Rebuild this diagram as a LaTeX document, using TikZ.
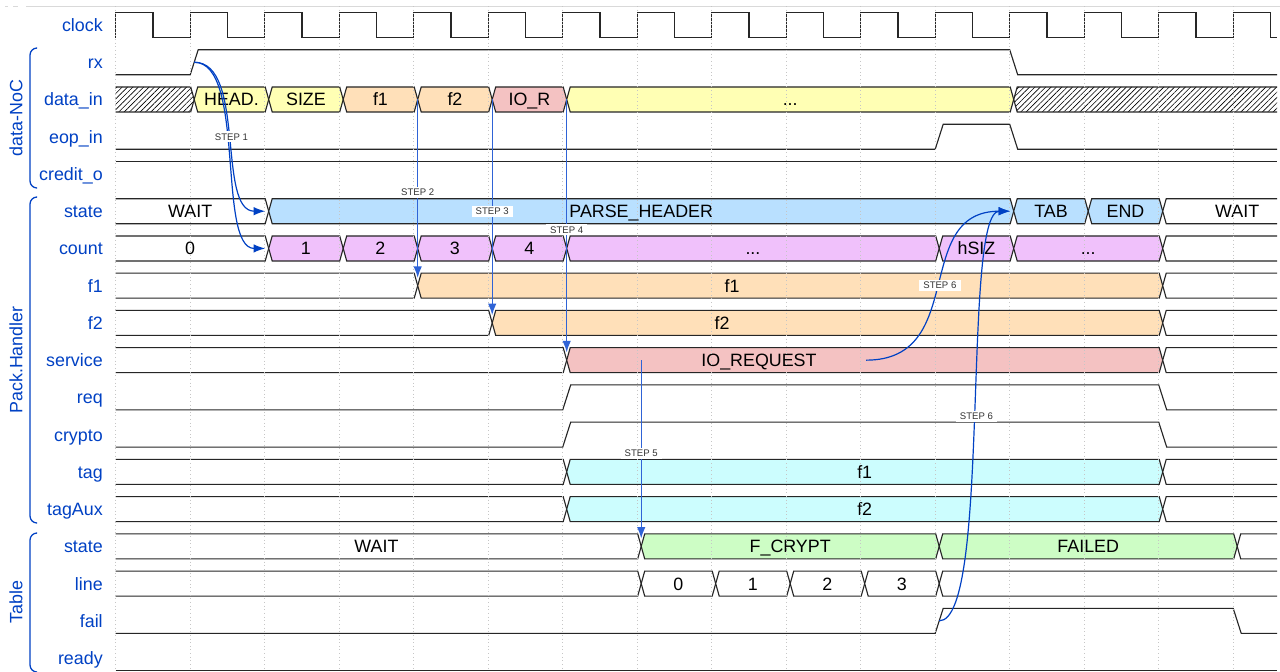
\documentclass[tikz,border=0pt]{standalone}
\usepackage{fontspec}
\setmainfont{Liberation Sans}
\usetikzlibrary{arrows.meta,patterns.meta}

\definecolor{sigblue}{HTML}{0041C4}
\definecolor{downblue}{HTML}{2F63D6}
\definecolor{wyellow}{HTML}{FFFFB4}
\definecolor{worange}{HTML}{FFE0B9}
\definecolor{wred}{HTML}{F4C2C2}
\definecolor{wblue}{HTML}{B9E0FF}
\definecolor{wcyan}{HTML}{CCFDFE}
\definecolor{wgreen}{HTML}{CDFDC5}
\definecolor{wpurple}{HTML}{F0C1FB}

% x of cycle k, centre / high / low y of row r
\newcommand{\gx}[1]{115.7+74.5*#1}
\newcommand{\ry}[1]{25+37.24*#1}
\newcommand{\yhi}[1]{12.5+37.24*#1}
\newcommand{\ylo}[1]{37.5+37.24*#1}

% bus segment: [text x], row, first cycle, last cycle (16 = open end), fill, text
\newcommand{\wseg}[6][]{%
  \pgfmathsetmacro{\segy}{25+37.24*#2}%
  \pgfmathsetmacro{\segt}{\segy-12.5}%
  \pgfmathsetmacro{\segb}{\segy+12.5}%
  \pgfmathsetmacro{\sega}{115.7+74.5*#3}%
  \pgfmathsetmacro{\sege}{115.7+74.5*#4}%
  \ifnum#3=0 \pgfmathsetmacro{\segx}{(\sega+\sege)/2}\else\pgfmathsetmacro{\segx}{(\sega+\sege)/2+4}\fi
  \if\relax\detokenize{#1}\relax\else\def\segx{#1}\fi
  \ifnum#4=16 \def\sege{1277}\fi
  \ifnum#3=0
    \ifnum#4=16
      \path[#5] (\sega,\segt) rectangle (\sege,\segb);
      \draw[wave] (\sega,\segt) -- (\sege,\segt) (\sega,\segb) -- (\sege,\segb);
    \else
      \path[#5] (\sega,\segt) -- (\sege+0.5,\segt) -- (\sege+4,\segy) -- (\sege+0.5,\segb) -- (\sega,\segb) -- cycle;
      \draw[wave] (\sega,\segt) -- (\sege+0.5,\segt) -- (\sege+4,\segy) -- (\sege+0.5,\segb) -- (\sega,\segb);
    \fi
  \else
    \ifnum#4=16
      \path[#5] (\sege,\segt) -- (\sega+7.5,\segt) -- (\sega+4,\segy) -- (\sega+7.5,\segb) -- (\sege,\segb) -- cycle;
      \draw[wave] (\sege,\segt) -- (\sega+7.5,\segt) -- (\sega+4,\segy) -- (\sega+7.5,\segb) -- (\sege,\segb);
    \else
      \path[#5] (\sega+4,\segy) -- (\sega+7.5,\segt) -- (\sege+0.5,\segt) -- (\sege+4,\segy) -- (\sege+0.5,\segb) -- (\sega+7.5,\segb) -- cycle;
      \draw[wave] (\sega+4,\segy) -- (\sega+7.5,\segt) -- (\sege+0.5,\segt) -- (\sege+4,\segy) -- (\sege+0.5,\segb) -- (\sega+7.5,\segb) -- cycle;
    \fi
  \fi
  \node[celltext] (seg-#2-#3) at (\segx,\segy) {#6};%
}

\tikzset{
  wave/.style={black!85,line width=0.8pt},
  hatchfill/.style={pattern={Lines[angle=45,distance=2.7pt,line width=0.45pt]}},
  celltext/.style={font=\fontsize{12.7}{14}\selectfont,text height=9.1pt,text depth=0pt,inner sep=0pt},
  siglabel/.style={sigblue,anchor=east,font=\fontsize{12.7}{14}\selectfont,text height=9.1pt,text depth=0pt,inner sep=0pt},
  grouplabel/.style={sigblue,rotate=90,font=\fontsize{12.7}{14}\selectfont},
  bracket/.style={sigblue,line width=0.9pt,rounded corners=5},
  gridl/.style={gray!45,dotted,line width=0.6pt},
  steparrow/.style={sigblue,line width=0.85pt,->,shorten >=2.5pt},
  stepdown/.style={steparrow,downblue,line width=1pt,shorten >=5.5pt},
  steplabel/.style={fill=white,text=black!80,font=\fontsize{6.8}{8}\selectfont,inner xsep=3pt,inner ysep=1.5pt}
}

\begin{document}
\begin{tikzpicture}[x=0.025cm,y=-0.025cm,>={Latex[length=8.2pt,width=6pt]}]
    \fill[white] (0,0) rectangle (1280,671);
    \useasboundingbox (0,0) rectangle (1280,671);
    \draw[gray!30] (26,6) -- (1280,6) (5,6) -- (8,6) (13,6) -- (18,6);

    % Signal names
    \foreach \r/\name in {0/clock,1/rx,2/data\_in,3/eop\_in,4/credit\_o,5/state,6/count,7/f1,8/f2,
        9/service,10/req,11/crypto,12/tag,13/tagAux,14/state,15/line,16/fail,17/ready}
        \node[siglabel] (sig\r) at (103,\ry{\r}) {\name};

    % Groups
    \draw[bracket] (36,48) -- (30,48) -- (30,188) -- (36,188);
    \node[grouplabel] (gnoc) at (16,118) {data-NoC};
    \draw[bracket] (36,197) -- (30,197) -- (30,523) -- (36,523);
    \node[grouplabel] (gph) at (16,360) {Pack.Handler};
    \draw[bracket] (36,533) -- (30,533) -- (30,672) -- (36,672);
    \node[grouplabel] (gtab) at (16,602) {Table};

    % clock
    \draw[wave] (\gx{0},\ylo{0}) foreach \k in {0,...,14} {
        -- (\gx{\k},\yhi{0}) -- (\gx{\k}+37.25,\yhi{0}) -- (\gx{\k}+37.25,\ylo{0}) -- (\gx{\k}+74.5,\ylo{0}) }
        -- (\gx{15},\yhi{0}) -- (\gx{15}+37.25,\yhi{0}) -- (\gx{15}+37.25,\ylo{0}) -- (1277,\ylo{0});

    % data-NoC
    \draw[wave] (\gx{0},\ylo{1}) -- (\gx{1},\ylo{1}) -- (\gx{1}+8,\yhi{1}) -- (\gx{12},\yhi{1})
        -- (\gx{12}+8,\ylo{1}) -- (1277,\ylo{1});
    \wseg{2}{0}{1}{hatchfill}{}
    \wseg{2}{1}{2}{fill=wyellow}{HEAD.}
    \wseg{2}{2}{3}{fill=wyellow}{SIZE}
    \wseg{2}{3}{4}{fill=worange}{f1}
    \wseg{2}{4}{5}{fill=worange}{f2}
    \wseg{2}{5}{6}{fill=wred}{IO\_R}
    \wseg{2}{6}{12}{fill=wyellow}{...}
    \wseg{2}{12}{16}{hatchfill}{}
    \draw[wave] (\gx{0},\ylo{3}) -- (\gx{11},\ylo{3}) -- (\gx{11}+8,\yhi{3}) -- (\gx{12},\yhi{3})
        -- (\gx{12}+8,\ylo{3}) -- (1277,\ylo{3});
    \draw[wave] (\gx{0},\yhi{4}) -- (1277,\yhi{4});

    % Pack.Handler
    \wseg{5}{0}{2}{fill=white}{WAIT}
    \wseg{5}{2}{12}{fill=wblue}{PARSE\_HEADER}
    \wseg{5}{12}{13}{fill=wblue}{TAB}
    \wseg{5}{13}{14}{fill=wblue}{END}
    \wseg{5}{14}{16}{fill=white}{WAIT}
    \wseg{6}{0}{2}{fill=white}{0}
    \wseg{6}{2}{3}{fill=wpurple}{1}
    \wseg{6}{3}{4}{fill=wpurple}{2}
    \wseg{6}{4}{5}{fill=wpurple}{3}
    \wseg{6}{5}{6}{fill=wpurple}{4}
    \wseg{6}{6}{11}{fill=wpurple}{...}
    \wseg{6}{11}{12}{fill=wpurple}{hSIZ}
    \wseg{6}{12}{14}{fill=wpurple}{...}
    \wseg{6}{14}{16}{fill=white}{}
    \wseg{7}{0}{4}{fill=white}{}
    \wseg[732]{7}{4}{14}{fill=worange}{f1}
    \wseg{7}{14}{16}{fill=white}{}
    \wseg{8}{0}{5}{fill=white}{}
    \wseg[722]{8}{5}{14}{fill=worange}{f2}
    \wseg{8}{14}{16}{fill=white}{}
    \wseg{9}{0}{6}{fill=white}{}
    \wseg[759]{9}{6}{14}{fill=wred}{IO\_REQUEST}
    \wseg{9}{14}{16}{fill=white}{}
    \draw[wave] (\gx{0},\ylo{10}) -- (\gx{6},\ylo{10}) -- (\gx{6}+8,\yhi{10}) -- (\gx{14},\yhi{10})
        -- (\gx{14}+8,\ylo{10}) -- (1277,\ylo{10});
    \draw[wave] (\gx{0},\ylo{11}) -- (\gx{6},\ylo{11}) -- (\gx{6}+8,\yhi{11}) -- (\gx{14},\yhi{11})
        -- (\gx{14}+8,\ylo{11}) -- (1277,\ylo{11});
    \wseg{12}{0}{6}{fill=white}{}
    \wseg{12}{6}{14}{fill=wcyan}{f1}
    \wseg{12}{14}{16}{fill=white}{}
    \wseg{13}{0}{6}{fill=white}{}
    \wseg{13}{6}{14}{fill=wcyan}{f2}
    \wseg{13}{14}{16}{fill=white}{}

    % Table
    \wseg{14}{0}{7}{fill=white}{WAIT}
    \wseg{14}{7}{11}{fill=wgreen}{F\_CRYPT}
    \wseg{14}{11}{15}{fill=wgreen}{FAILED}
    \wseg{14}{15}{16}{fill=white}{}
    \wseg{15}{0}{7}{fill=white}{}
    \wseg{15}{7}{8}{fill=white}{0}
    \wseg{15}{8}{9}{fill=white}{1}
    \wseg{15}{9}{10}{fill=white}{2}
    \wseg{15}{10}{11}{fill=white}{3}
    \wseg{15}{11}{16}{fill=white}{}
    \draw[wave] (\gx{0},\ylo{16}) -- (\gx{11},\ylo{16}) -- (\gx{11}+8,\yhi{16}) -- (\gx{15},\yhi{16})
        -- (\gx{15}+8,\ylo{16}) -- (1277,\ylo{16});
    \draw[wave] (\gx{0},\ylo{17}) -- (1277,\ylo{17});

    % Cycle grid
    \foreach \k in {0,...,15}
        \draw[gridl] (\gx{\k},6) -- (\gx{\k},671);

    % Step points
    \coordinate (rxup) at (\gx{1}+4,\ry{1});
    \coordinate (stp) at (\gx{2}+4,\ry{5});
    \coordinate (cnt) at (\gx{2}+4,\ry{6});
    \coordinate (din4) at (\gx{4}+4,\ry{2});
    \coordinate (f1in) at (\gx{4}+4,\ry{7});
    \coordinate (din5) at (\gx{5}+4,\ry{2});
    \coordinate (f2in) at (\gx{5}+4,\ry{8});
    \coordinate (din6) at (\gx{6}+4,\ry{2});
    \coordinate (srvin) at (\gx{6}+4,\ry{9});
    \coordinate (srvout) at (\gx{7}+4,\ry{9});
    \coordinate (tstin) at (\gx{7}+4,\ry{14});
    \coordinate (srvsix) at (866,\ry{9});
    \coordinate (sttab) at (\gx{12}+4,\ry{5});
    \coordinate (failup) at (\gx{11}+4,\ry{16});

    % Steps
    \draw[steparrow] (rxup) to[out=0,in=180,out distance=37pt,in distance=37pt] (cnt);
    \draw[steparrow] (rxup) to[out=0,in=180,out distance=37pt,in distance=37pt]
        node[steplabel,midway] (lstep1) {STEP 1} (stp);
    \draw[stepdown] (din4) -- node[steplabel,midway] (lstep2) {STEP 2} (f1in);
    \draw[stepdown] (din5) -- node[steplabel,midway] (lstep3) {STEP 3} (f2in);
    \draw[stepdown] (din6) -- node[steplabel,midway] (lstep4) {STEP 4} (srvin);
    \draw[stepdown] (srvout) -- node[steplabel,midway] (lstep5) {STEP 5} (tstin);
    \draw[steparrow] (srvsix) to[out=0,in=180,out distance=73pt,in distance=73pt]
        node[steplabel,midway] (lstep6a) {STEP 6} (sttab);
    \draw[steparrow] (failup) to[out=0,in=180,out distance=37pt,in distance=37pt]
        node[steplabel,midway] (lstep6b) {STEP 6} (sttab);
\end{tikzpicture}
\end{document}
